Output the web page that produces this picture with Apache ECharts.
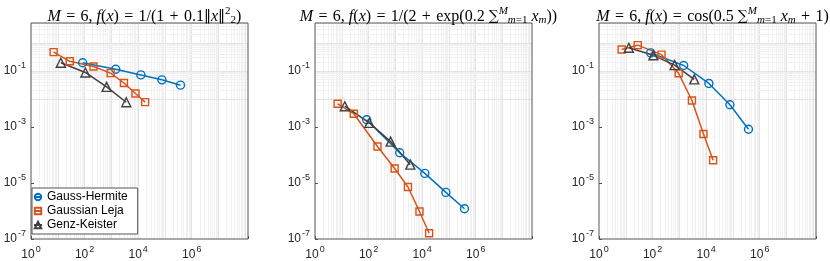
<!DOCTYPE html>
<html>
<head>
<meta charset="utf-8">
<script src="https://cdn.jsdelivr.net/npm/echarts@6/dist/echarts.min.js"></script>
<style>
  html, body { margin: 0; padding: 0; background: #fff; }
  #chart { width: 830px; height: 261px; }
</style>
</head>
<body>
<div id="chart"></div>
<script>
// number of quadrature points (same grids for all three integrands)
const ghPoints = [85, 1450, 12600, 77000, 380000];
const glPoints = [7, 28, 215, 940, 2950, 7950, 18200];
const gkPoints = [13, 107, 665, 3600];

// relative error, f(x) = 1/(1+0.1|x|^2)
const ghErr1 = [0.195, 0.115, 0.072, 0.048, 0.031];
const glErr1 = [0.47, 0.22, 0.143, 0.083, 0.037, 0.0156, 0.0077];
const gkErr1 = [0.195, 0.088, 0.027, 0.0076];
// f(x) = 1/(2+exp(0.2 sum x))
const ghErr2 = [1.8e-3, 1.2e-4, 2.2e-5, 4.6e-6, 1.2e-6];
const glErr2 = [6.7e-3, 2.97e-3, 2.0e-4, 3.3e-5, 7.2e-6, 9.6e-7, 1.6e-7];
const gkErr2 = [5.5e-3, 1.4e-3, 3.0e-4, 4.5e-5];
// f(x) = cos(0.5 sum x + 1)
const ghErr3 = [0.44, 0.156, 0.0357, 6.2e-3, 8.3e-4];
const glErr3 = [0.58, 0.83, 0.38, 0.082, 8.8e-3, 5.6e-4, 6.5e-5];
const gkErr3 = [0.67, 0.36, 0.161, 0.05];

const methodNames = ['Gauss-Hermite', 'Gaussian Leja', 'Genz-Keister'];
const xTickExp = [0, 2, 4, 6];
const yTickExp = [-1, -3, -5, -7];

const sp = '\u2004'; // wider (latex like) space round = and +
const titles = [
  '{i|M}' + sp + '=' + sp + '6, {i|f}({i|x})' + sp + '=' + sp + '1/(1' + sp + '+' + sp + '0.1{n|‖}{i|x}{n|‖}{sup|2}{sub|2})',
  '{i|M}' + sp + '=' + sp + '6, {i|f}({i|x})' + sp + '=' + sp + '1/(2' + sp + '+' + sp + 'exp(0.2 {op|∑}{supi|M}{subi|m}{sub|=1} {i|x}{subi|m}))',
  '{i|M}' + sp + '=' + sp + '6, {i|f}({i|x})' + sp + '=' + sp + 'cos(0.5 {op|∑}{supi|M}{subi|m}{sub|=1} {i|x}{subi|m}' + sp + '+' + sp + '1)'
];

const X_MIN = 1, X_MAX = Math.pow(10, 8.1);
const Y_MIN = 1e-7, Y_MAX = Math.pow(10, 0.71);

const colors = ['#0072BD', '#D95319', '#404040'];
const symbols = ['circle', 'rect', 'triangle'];
const symSize = [8, 7, 9];

let myChart = echarts.init(document.getElementById('chart'));

const panelLeft = [31, 315, 599];
const panelW = 217, panelH = 216, panelTop = 23;

function expFmt(list) {
  return function (v) {
    let e = Math.log10(v);
    let r = Math.round(e);
    if (Math.abs(e - r) > 1e-6 || list.indexOf(r) < 0) return '';
    return '{b|10}{e|' + r + '}';
  };
}

const labelRich = {
  b: { fontFamily: 'Liberation Sans', fontSize: 12, color: '#262626' },
  e: { fontFamily: 'Liberation Sans', fontSize: 9, color: '#262626', padding: [0, 0, 10, 1] }
};

// minor/major grid lines, log spaced
function gridLines(key, lo, hi) {
  let out = [];
  for (let e = -9; e <= 9; e++) {
    for (let k = 1; k <= 9; k++) {
      let v = k * Math.pow(10, e);
      if (v <= lo * 1.0001 || v >= hi * 0.9999) continue;
      let item = {};
      item[key] = v;
      item.lineStyle = k === 1
        ? { color: '#e4e4e4', width: 1, type: 'solid' }
        : { color: '#f1f1f1', width: 1, type: 'solid' };
      out.push(item);
    }
  }
  return out;
}

const errs = [[ghErr1, glErr1, gkErr1], [ghErr2, glErr2, gkErr2], [ghErr3, glErr3, gkErr3]];
const pts = [ghPoints, glPoints, gkPoints];

let grids = [], xAxes = [], yAxes = [], series = [], titleOpts = [];
for (let p = 0; p < 3; p++) {
  grids.push({
    left: panelLeft[p], top: panelTop, width: panelW, height: panelH,
    show: true, borderColor: '#555', borderWidth: 1, backgroundColor: 'transparent', z: 3
  });
  xAxes.push({
    type: 'log', logBase: 10, gridIndex: p, min: X_MIN, max: X_MAX, interval: 2,
    axisLine: { show: false },
    axisTick: { show: true, inside: true, length: 3, lineStyle: { color: '#555' } },
    splitLine: { show: false },
    axisLabel: { formatter: expFmt(xTickExp), margin: 6, rich: labelRich, showMinLabel: true, showMaxLabel: true, hideOverlap: false }
  });
  yAxes.push({
    type: 'log', logBase: 10, gridIndex: p, min: Y_MIN, max: Y_MAX, interval: 2,
    axisLine: { show: false },
    axisTick: { show: true, inside: true, length: 3, lineStyle: { color: '#555' } },
    splitLine: { show: false },
    axisLabel: { formatter: expFmt(yTickExp), margin: 5, rich: labelRich, showMinLabel: true, showMaxLabel: true, hideOverlap: false }
  });
  // background grid
  series.push({
    type: 'line', xAxisIndex: p, yAxisIndex: p, data: [], z: 1, silent: true,
    markLine: {
      silent: true, symbol: ['none', 'none'], animation: false, z: 1,
      label: { show: false },
      emphasis: { disabled: true },
      data: gridLines('xAxis', X_MIN, X_MAX).concat(gridLines('yAxis', Y_MIN, Y_MAX))
    }
  });
  for (let m = 0; m < 3; m++) {
    series.push({
      name: methodNames[m], type: 'line', xAxisIndex: p, yAxisIndex: p, z: 2,
      data: pts[m].map((x, i) => [x, errs[p][m][i]]),
      symbol: symbols[m], symbolSize: symSize[m], showAllSymbol: true,
      lineStyle: { color: colors[m], width: 1.5 },
      itemStyle: { color: 'rgba(255,255,255,0)', borderColor: colors[m], borderWidth: 1.4 },
      animation: false
    });
  }
  titleOpts.push({
    text: titles[p], left: panelLeft[p] + panelW / 2, top: 1, textAlign: 'center',
    textStyle: {
      fontFamily: 'Liberation Serif', fontSize: 16, fontWeight: 'normal', color: '#000',
      rich: {
        i: { fontFamily: 'Liberation Serif', fontSize: 16, fontStyle: 'italic', color: '#000' },
        n: { fontFamily: 'DejaVu Sans', fontSize: 14, color: '#000' },
        op: { fontFamily: 'DejaVu Serif', fontSize: 14, color: '#000' },
        sup: { fontFamily: 'Liberation Serif', fontSize: 11, color: '#000', padding: [0, 0, 10, 0] },
        supi: { fontFamily: 'Liberation Serif', fontSize: 11, fontStyle: 'italic', color: '#000', padding: [0, 0, 10, 0] },
        sub: { fontFamily: 'Liberation Serif', fontSize: 11, color: '#000', padding: [7, 0, 0, 0] },
        subi: { fontFamily: 'Liberation Serif', fontSize: 11, fontStyle: 'italic', color: '#000', padding: [7, 0, 0, 0] }
      }
    }
  });
}

let option = {
  backgroundColor: '#fff',
  animation: false,
  title: titleOpts,
  legend: {
    data: methodNames, orient: 'vertical', left: 32, top: 188,
    itemWidth: 8, itemHeight: 8, itemGap: 2,
    padding: [3, 10, 3, 1],
    backgroundColor: '#fff', borderColor: '#555', borderWidth: 1, borderRadius: 0,
    textStyle: { fontFamily: 'Liberation Sans', fontSize: 12, color: '#000' },
    z: 6
  },
  grid: grids,
  xAxis: xAxes,
  yAxis: yAxes,
  series: series
};

myChart.setOption(option);
</script>
</body>
</html>
